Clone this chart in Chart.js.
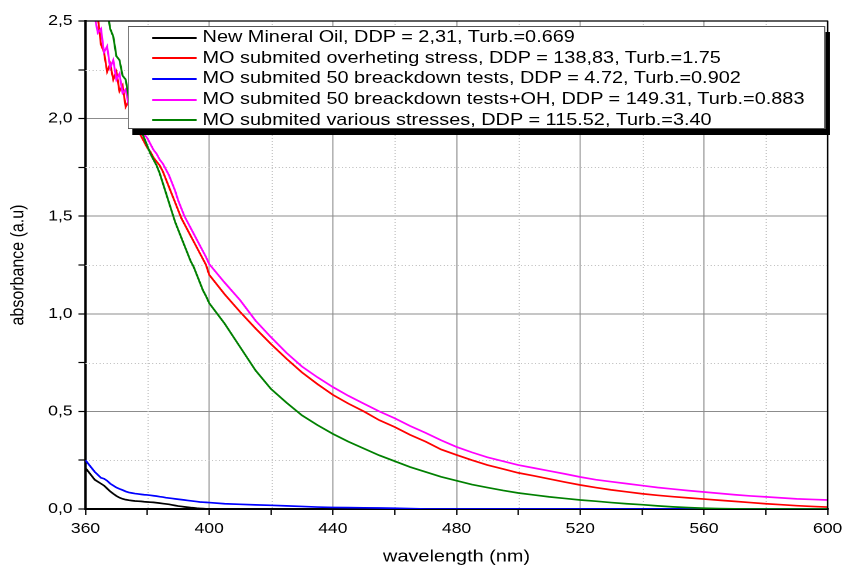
<!DOCTYPE html>
<html>
<head>
<meta charset="utf-8">
<title>Absorbance spectra</title>
<script src="https://cdn.jsdelivr.net/npm/chart.js@4.4.1/dist/chart.umd.min.js"></script>
<style>
  html, body { margin: 0; padding: 0; background: #fff; overflow: hidden; }
  /* the whole figure is drawn narrower and stretched sideways */
  #wrap { position: relative; width: 721px; height: 567px; transform: scaleX(1.1706); transform-origin: 0 0; }
  #chart { position: absolute; left: 0; top: 0; }
  #legend {
    position: absolute; left: 109px; top: 26px; width: 596px; height: 103px;
    box-sizing: border-box; background: #fff; border: 1.5px solid #555;
    box-shadow: 4px 6px 0 #000;
    font: 17px "Liberation Sans", Arial, sans-serif; color: #000;
  }
  #legend .row { height: 20.7px; line-height: 20.7px; white-space: nowrap; }
  #legend .row i { display: inline-block; width: 38px; height: 2px; margin: 0 5px 0 20px; vertical-align: middle; }
</style>
</head>
<body>
<div id="wrap">
  <canvas id="chart"></canvas>
  <div id="legend"></div>
</div>
<script>
// wavelength (nm): 1 nm steps up to 400, then 5 nm steps
const wavelengths = [
  360, 361, 362, 363, 364, 365, 366, 367, 368, 369, 370, 371, 372, 373, 374, 375, 376, 377, 378, 379, 380,
  381, 382, 383, 384, 385, 386, 387, 388, 389, 390, 391, 392, 393, 394, 395, 396, 397, 398, 399, 400,
  405, 410, 415, 420, 425, 430, 435, 440, 445, 450, 455, 460, 465, 470, 475, 480,
  485, 490, 495, 500, 505, 510, 515, 520, 525, 530, 535, 540, 545, 550, 555, 560,
  565, 570, 575, 580, 585, 590, 595, 600
];

const newOil = [
  0.21, 0.19, 0.17, 0.15, 0.14, 0.13, 0.12, 0.105, 0.09, 0.078, 0.067, 0.058, 0.052, 0.048, 0.045, 0.043, 0.041, 0.04, 0.039, 0.037, 0.036,
  0.035, 0.034, 0.032, 0.03, 0.028, 0.026, 0.024, 0.021, 0.018, 0.015, 0.013, 0.011, 0.009, 0.007, 0.006, 0.004, 0.003, 0.002, 0.001, 0,
  0, 0, 0, 0, 0, 0, 0, 0, 0, 0, 0, 0, 0, 0, 0, 0,
  0, 0, 0, 0, 0, 0, 0, 0, 0, 0, 0, 0, 0, 0, 0, 0,
  0, 0, 0, 0, 0, 0, 0, 0
];

const overheating = [
  2.95, 2.85, 2.72, 2.60, 2.52, 2.38, 2.34, 2.24, 2.28, 2.20, 2.24, 2.14, 2.17, 2.06, 2.09, 2.00, 1.98, 1.94, 1.91, 1.88, 1.85,
  1.83, 1.80, 1.78, 1.76, 1.73, 1.69, 1.65, 1.61, 1.57, 1.53, 1.49, 1.46, 1.43, 1.40, 1.37, 1.34, 1.31, 1.28, 1.25, 1.20,
  1.10, 1.01, 0.925, 0.845, 0.77, 0.70, 0.64, 0.585, 0.54, 0.50, 0.455, 0.42, 0.38, 0.345, 0.305, 0.277,
  0.25, 0.225, 0.205, 0.185, 0.17, 0.154, 0.138, 0.123, 0.11, 0.098, 0.088, 0.078, 0.07, 0.063, 0.057, 0.051,
  0.045, 0.039, 0.033, 0.027, 0.022, 0.017, 0.013, 0.01
];

const breakdown = [
  0.25, 0.23, 0.21, 0.19, 0.175, 0.16, 0.155, 0.145, 0.13, 0.12, 0.11, 0.103, 0.097, 0.09, 0.085, 0.082, 0.079, 0.077, 0.075, 0.073, 0.072,
  0.07, 0.068, 0.066, 0.063, 0.061, 0.058, 0.056, 0.054, 0.052, 0.05, 0.048, 0.046, 0.044, 0.042, 0.04, 0.038, 0.036, 0.035, 0.034, 0.033,
  0.027, 0.024, 0.021, 0.019, 0.016, 0.013, 0.01, 0.008, 0.007, 0.006, 0.005, 0.004, 0.002, 0, 0, 0,
  0, 0, 0, 0, 0, 0, 0, 0, 0, 0, 0, 0, 0, 0, 0, 0,
  0, 0, 0, 0, 0, 0, 0, 0
];

const breakdownOH = [
  3.0, 2.85, 2.65, 2.52, 2.44, 2.46, 2.34, 2.37, 2.26, 2.30, 2.20, 2.23, 2.13, 2.15, 2.07, 2.06, 2.01, 1.98, 1.95, 1.92, 1.90,
  1.87, 1.84, 1.82, 1.79, 1.77, 1.74, 1.71, 1.67, 1.63, 1.58, 1.54, 1.50, 1.47, 1.44, 1.41, 1.38, 1.35, 1.32, 1.29, 1.255,
  1.16, 1.07, 0.965, 0.88, 0.80, 0.73, 0.675, 0.625, 0.58, 0.54, 0.50, 0.465, 0.425, 0.39, 0.352, 0.318,
  0.29, 0.265, 0.245, 0.225, 0.21, 0.195, 0.18, 0.164, 0.15, 0.14, 0.13, 0.12, 0.11, 0.102, 0.094, 0.087,
  0.08, 0.073, 0.067, 0.062, 0.057, 0.052, 0.049, 0.046
];

const variousStress = [
  3.2, 3.1, 3.0, 2.9, 2.8, 2.7, 2.62, 2.56, 2.46, 2.42, 2.32, 2.30, 2.22, 2.20, 2.11, 2.07, 2.02, 1.97, 1.94, 1.90, 1.86,
  1.82, 1.79, 1.76, 1.72, 1.67, 1.62, 1.57, 1.52, 1.47, 1.43, 1.39, 1.35, 1.31, 1.27, 1.24, 1.20, 1.16, 1.12, 1.09, 1.055,
  0.95, 0.83, 0.71, 0.615, 0.545, 0.48, 0.43, 0.385, 0.345, 0.31, 0.275, 0.245, 0.215, 0.19, 0.165, 0.145,
  0.125, 0.11, 0.095, 0.082, 0.072, 0.062, 0.054, 0.046, 0.04, 0.033, 0.027, 0.022, 0.016, 0.011, 0.007, 0.004,
  0.002, 0.001, 0, 0, 0, 0, 0, 0
];

const seriesLabels = [
  'New Mineral Oil, DDP = 2,31, Turb.=0.669',
  'MO submited overheting stress, DDP = 138,83, Turb.=1.75',
  'MO submited 50 breackdown tests, DDP = 4.72, Turb.=0.902',
  'MO submited 50 breackdown tests+OH, DDP = 149.31, Turb.=0.883',
  'MO submited various stresses, DDP = 115.52, Turb.=3.40'
];
const seriesColors = ['#000000', '#ff0000', '#0000ff', '#ff00ff', '#008000'];
const seriesValues = [newOil, overheating, breakdown, breakdownOH, variousStress];
// later series sit on top, as in the original plot
const drawOrder = [4, 3, 2, 1, 0];

const xTickLabels = ['360', '400', '440', '480', '520', '560', '600'];
const yTickLabels = ['0,0', '0,5', '1,0', '1,5', '2,0', '2,5'];

const font = '"Liberation Sans", Arial, sans-serif';
const isMajorX = v => v % 40 === 0;
const isMajorY = v => Math.abs(v * 2 - Math.round(v * 2)) < 1e-6;

// dotted lines at the minor ticks, plus the closing frame on top/right
const minorGrid = {
  id: 'minorGrid',
  beforeDatasetsDraw(chart) {
    const { ctx, chartArea: a, scales: { x, y } } = chart;
    ctx.save();
    ctx.strokeStyle = '#c4c4c4';
    ctx.lineWidth = 1;
    ctx.setLineDash([1, 2]);
    x.ticks.forEach(t => {
      if (isMajorX(t.value)) return;
      const px = Math.round(x.getPixelForValue(t.value)) + 0.5;
      ctx.beginPath(); ctx.moveTo(px, a.top); ctx.lineTo(px, a.bottom); ctx.stroke();
    });
    y.ticks.forEach(t => {
      if (isMajorY(t.value)) return;
      const py = Math.round(y.getPixelForValue(t.value)) + 0.5;
      ctx.beginPath(); ctx.moveTo(a.left, py); ctx.lineTo(a.right, py); ctx.stroke();
    });
    ctx.restore();
  },
  afterDraw(chart) {
    const { ctx, chartArea: a } = chart;
    ctx.save();
    ctx.strokeStyle = '#000';
    ctx.lineWidth = 1.2;
    ctx.beginPath();
    ctx.moveTo(a.left, a.top); ctx.lineTo(a.right, a.top); ctx.lineTo(a.right, a.bottom);
    ctx.stroke();
    ctx.restore();
  }
};

const datasets = seriesValues.map((vals, i) => ({
  label: seriesLabels[i],
  data: wavelengths.map((w, j) => ({ x: w, y: vals[j] })),
  borderColor: seriesColors[i],
  backgroundColor: seriesColors[i],
  borderWidth: 1.7,
  pointRadius: 0,
  tension: 0,
  order: drawOrder[i]
}));

const chart = new Chart(document.getElementById('chart'), {
  type: 'line',
  data: { datasets },
  options: {
    responsive: true,
    maintainAspectRatio: false,
    animation: false,
    devicePixelRatio: 2,
    layout: { padding: { left: 0, right: 14, top: 21, bottom: 0 } },
    plugins: { legend: { display: false }, tooltip: { enabled: false } },
    scales: {
      x: {
        type: 'linear',
        min: 360, max: 600,
        afterFit: s => { s.height = 58; s.paddingLeft = 0; s.paddingRight = 0; },
        border: { display: true, color: '#000', width: 2 },
        grid: {
          color: c => (c.tick && isMajorX(c.tick.value)) ? '#b4b4b4' : 'rgba(0,0,0,0)',
          lineWidth: 1.4,
          tickColor: '#000', tickLength: 6, tickWidth: 1.2
        },
        ticks: {
          stepSize: 20, autoSkip: false, maxRotation: 0, padding: 5,
          color: '#000', font: { family: font, size: 15 },
          callback: v => isMajorX(v) ? xTickLabels[(v - 360) / 40] : ''
        },
        title: {
          display: true, text: 'wavelength (nm)', color: '#000',
          font: { family: font, size: 17 }, padding: { top: 0, bottom: 0 }
        }
      },
      y: {
        min: 0, max: 2.5,
        afterFit: s => { s.width = 73; s.paddingTop = 0; s.paddingBottom = 0; },
        border: { display: true, color: '#000', width: 2 },
        grid: {
          color: c => (c.tick && isMajorY(c.tick.value)) ? '#8c8c8c' : 'rgba(0,0,0,0)',
          lineWidth: 1,
          tickColor: '#000', tickLength: 6, tickWidth: 1.2
        },
        ticks: {
          stepSize: 0.25, autoSkip: false, padding: 5,
          color: '#000', font: { family: font, size: 15 },
          callback: v => isMajorY(v) ? yTickLabels[Math.round(v * 2)] : ''
        },
        title: {
          display: true, text: 'absorbance (a.u)', color: '#000',
          font: { family: font, size: 16 }, padding: { top: 6, bottom: 0 }
        }
      }
    }
  },
  plugins: [minorGrid]
});

// legend box inside the plot
const legend = document.getElementById('legend');
chart.data.datasets.forEach(ds => {
  const row = document.createElement('div');
  row.className = 'row';
  const swatch = document.createElement('i');
  swatch.style.background = ds.borderColor;
  row.appendChild(swatch);
  row.appendChild(document.createTextNode(ds.label));
  legend.appendChild(row);
});
</script>
</body>
</html>
